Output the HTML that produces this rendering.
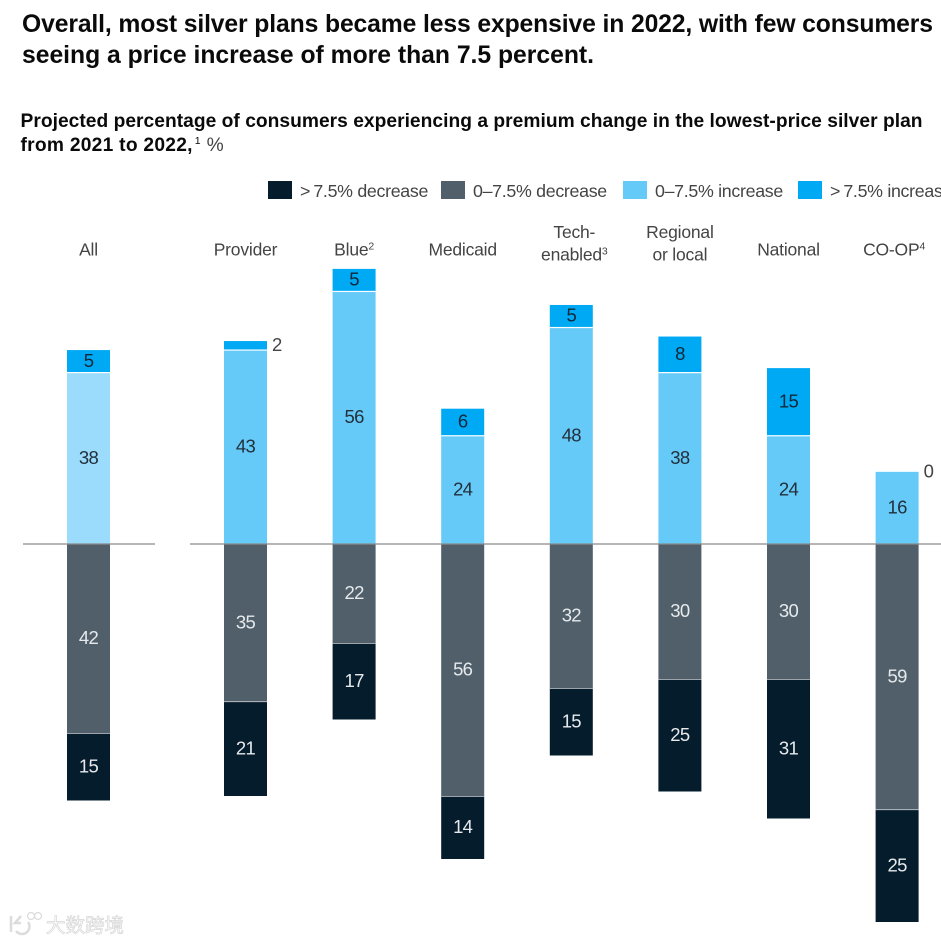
<!DOCTYPE html>
<html lang="en">
<head>
<meta charset="utf-8">
<title>Premium change in lowest-price silver plans</title>
<style>
html,body{margin:0;padding:0;background:#fff;width:941px;height:941px;overflow:hidden}
svg{display:block;font-family:"Liberation Sans","Noto Sans CJK SC",sans-serif}
</style>
</head>
<body>
<svg id="chart" width="941" height="941" viewBox="0 0 941 941" xmlns="http://www.w3.org/2000/svg">
  <rect width="941" height="941" fill="#fff"/>
  <g font-size="24.7" font-weight="700" fill="#0a0a0a">
    <text x="22" y="32" textLength="911" lengthAdjust="spacing">Overall, most silver plans became less expensive in 2022, with few consumers</text>
    <text x="22" y="63" textLength="572" lengthAdjust="spacing">seeing a price increase of more than 7.5 percent.</text>
  </g>
  <g font-size="19.2" font-weight="700" fill="#0a0a0a">
    <text x="20.500" y="127" textLength="902" lengthAdjust="spacing">Projected percentage of consumers experiencing a premium change in the lowest-price silver plan</text>
    <text x="20.500" y="151"><tspan textLength="172" lengthAdjust="spacing">from 2021 to 2022,</tspan><tspan font-size="10.5" font-weight="400" dy="-7" dx="2">1</tspan><tspan font-weight="400" fill="#444" dy="7" dx="6">%</tspan></text>
  </g>
  <g id="legend"></g>
  <g id="bars"></g>
  <g id="categories"></g>
  <g id="baselines"></g>
  <g>
    <path d="M11 916v16M21 916l-6 7 6 0M28 922a7 7 0 0 1-12 9" fill="none" stroke="#dcdcdc" stroke-width="2.500"/>
    <circle cx="31" cy="916" r="3.500" fill="none" stroke="#dcdcdc" stroke-width="1.300"/>
    <circle cx="38" cy="916" r="3.500" fill="none" stroke="#dcdcdc" stroke-width="1.300"/>
    <text x="46" y="932" font-size="19.500" fill="#fff" stroke="#d6d6d6" stroke-width="0.700">大数跨境</text>
  </g>
</svg>
<script>
var categories = [["All"], ["Provider"], ["Blue"], ["Medicaid"], ["Tech-", "enabled"], ["Regional", "or local"], ["National"], ["CO-OP"]];
var footnotes = ["", "", "2", "", "3", "", "", "4"];
var bigDecrease = [15, 21, 17, 14, 15, 25, 31, 25];
var smallDecrease = [42, 35, 22, 56, 32, 30, 30, 59];
var smallIncrease = [38, 43, 56, 24, 48, 38, 24, 16];
var bigIncrease = [5, 2, 5, 6, 5, 8, 15, 0];
var legendLabels = ["> 7.5% decrease", "0\u20137.5% decrease", "0\u20137.5% increase", "> 7.5% increase"];

var SVGNS = "http://www.w3.org/2000/svg";
var ZERO = 544;
var UNIT_UP = 4.51;
var UNIT_DOWN = 4.5;
var BAR_W = 43;
var COLORS = { bigDec: "#051c2c", smallDec: "#505f69", smallInc: "#66caf9", bigInc: "#00a9f4", allInc: "#9bdcfc" };

function yUp(v) { return ZERO - v * UNIT_UP; }
function yDown(v) { return ZERO + v * UNIT_DOWN; }
function xCenter(i) { return i === 0 ? 88.5 : 245.5 + (i - 1) * 108.6; }
function labelCenter(i) {
  if (categories[i][0] === "Tech-") { return xCenter(i) + 3; }
  if (categories[i][0] === "CO-OP") { return xCenter(i) - 3; }
  return xCenter(i);
}

var barsGroup = document.getElementById("bars");
var catGroup = document.getElementById("categories");
var legendGroup = document.getElementById("legend");
var lineGroup = document.getElementById("baselines");

function slug(i) {
  return categories[i].join("-").toLowerCase().replace(/[^a-z]+/g, "-");
}

function drawSegment(i, name, v0, v1, fill, textFill, outside) {
  var positive = v0 >= 0 && v1 >= 0;
  var top = positive ? yUp(Math.max(v0, v1)) : yDown(Math.min(-v0, -v1));
  var bottom = positive ? yUp(Math.min(v0, v1)) : yDown(Math.max(-v0, -v1));
  var value = Math.abs(v1 - v0);
  var cx = xCenter(i);
  var rect = document.createElementNS(SVGNS, "rect");
  
  
  rect.setAttribute("x", cx - BAR_W / 2);
  rect.setAttribute("y", top);
  rect.setAttribute("width", BAR_W);
  rect.setAttribute("height", Math.max(0, bottom - top));
  rect.setAttribute("fill", fill);
  barsGroup.appendChild(rect);
  if (bottom - top > 1 && v0 !== 0) {
    var sep = document.createElementNS(SVGNS, "rect");
    
    
    sep.setAttribute("x", cx - BAR_W / 2);
    sep.setAttribute("y", v0 > 0 ? bottom - 0.6 : top - 0.6);
    sep.setAttribute("width", BAR_W);
    sep.setAttribute("height", 1.2);
    sep.setAttribute("fill", "#ffffff");
    barsGroup.appendChild(sep);
  }
  var label = document.createElementNS(SVGNS, "text");
  
  
  label.setAttribute("font-size", "18.5");
  label.setAttribute("fill", outside ? "#444444" : textFill);
  label.setAttribute("letter-spacing", "-0.7");
  label.setAttribute("y", (top + bottom) / 2 + 5.5);
  if (outside) {
    label.setAttribute("x", cx + BAR_W / 2 + 5);
  } else {
    label.setAttribute("x", cx);
    label.setAttribute("text-anchor", "middle");
  }
  label.textContent = value;
  barsGroup.appendChild(label);
}

categories.forEach(function (lines, i) {
  var s1 = smallIncrease[i], s2 = s1 + bigIncrease[i];
  var d1 = smallDecrease[i], d2 = d1 + bigDecrease[i];
  drawSegment(i, "big-decrease", -d1, -d2, COLORS.bigDec, "#e6eaed", false);
  drawSegment(i, "small-decrease", 0, -d1, COLORS.smallDec, "#e6eaed", false);
  drawSegment(i, "small-increase", 0, s1, i === 0 ? COLORS.allInc : COLORS.smallInc, "#22303c", false);
  drawSegment(i, "big-increase", s1, s2, COLORS.bigInc, "#10283a", bigIncrease[i] <= 2);

  var startY = lines.length === 1 ? 255.500 : 238;
  lines.forEach(function (line, k) {
    var t = document.createElementNS(SVGNS, "text");
    
    
    t.setAttribute("x", labelCenter(i));
    t.setAttribute("y", startY + k * 22.5);
    t.setAttribute("text-anchor", "middle");
    t.setAttribute("font-size", "17.5");
    t.setAttribute("fill", "#444444");
    t.setAttribute("letter-spacing", "-0.2");
    t.textContent = line;
    if (k === lines.length - 1 && footnotes[i]) {
      var sup = document.createElementNS(SVGNS, "tspan");
      sup.setAttribute("font-size", "10.5");
      sup.setAttribute("dy", "-6");
      sup.textContent = footnotes[i];
      t.appendChild(sup);
    }
    catGroup.appendChild(t);
  });
});

var legendFills = [COLORS.bigDec, COLORS.smallDec, COLORS.smallInc, COLORS.bigInc];
var legendSwatchX = [268, 441, 623, 798];
legendLabels.forEach(function (name, i) {
  var sw = document.createElementNS(SVGNS, "rect");
  
  
  sw.setAttribute("x", legendSwatchX[i]);
  sw.setAttribute("y", 181);
  sw.setAttribute("width", 24);
  sw.setAttribute("height", 18);
  sw.setAttribute("fill", legendFills[i]);
  legendGroup.appendChild(sw);
  var t = document.createElementNS(SVGNS, "text");
  
  
  t.setAttribute("x", legendSwatchX[i] + 32);
  t.setAttribute("y", 197);
  t.setAttribute("font-size", "17.8");
  t.setAttribute("fill", "#444444");
  t.setAttribute("letter-spacing", "-0.3");
  t.textContent = name.replace("> ", ">\u2009");
  legendGroup.appendChild(t);
});

[[23, 155], [190, 941]].forEach(function (seg, i) {
  var l = document.createElementNS(SVGNS, "line");
  
  
  l.setAttribute("x1", seg[0]);
  l.setAttribute("x2", seg[1]);
  l.setAttribute("y1", ZERO);
  l.setAttribute("y2", ZERO);
  l.setAttribute("stroke", "#8a8a8a");
  l.setAttribute("stroke-width", "1.2");
  lineGroup.appendChild(l);
});
</script>
</body>
</html>
